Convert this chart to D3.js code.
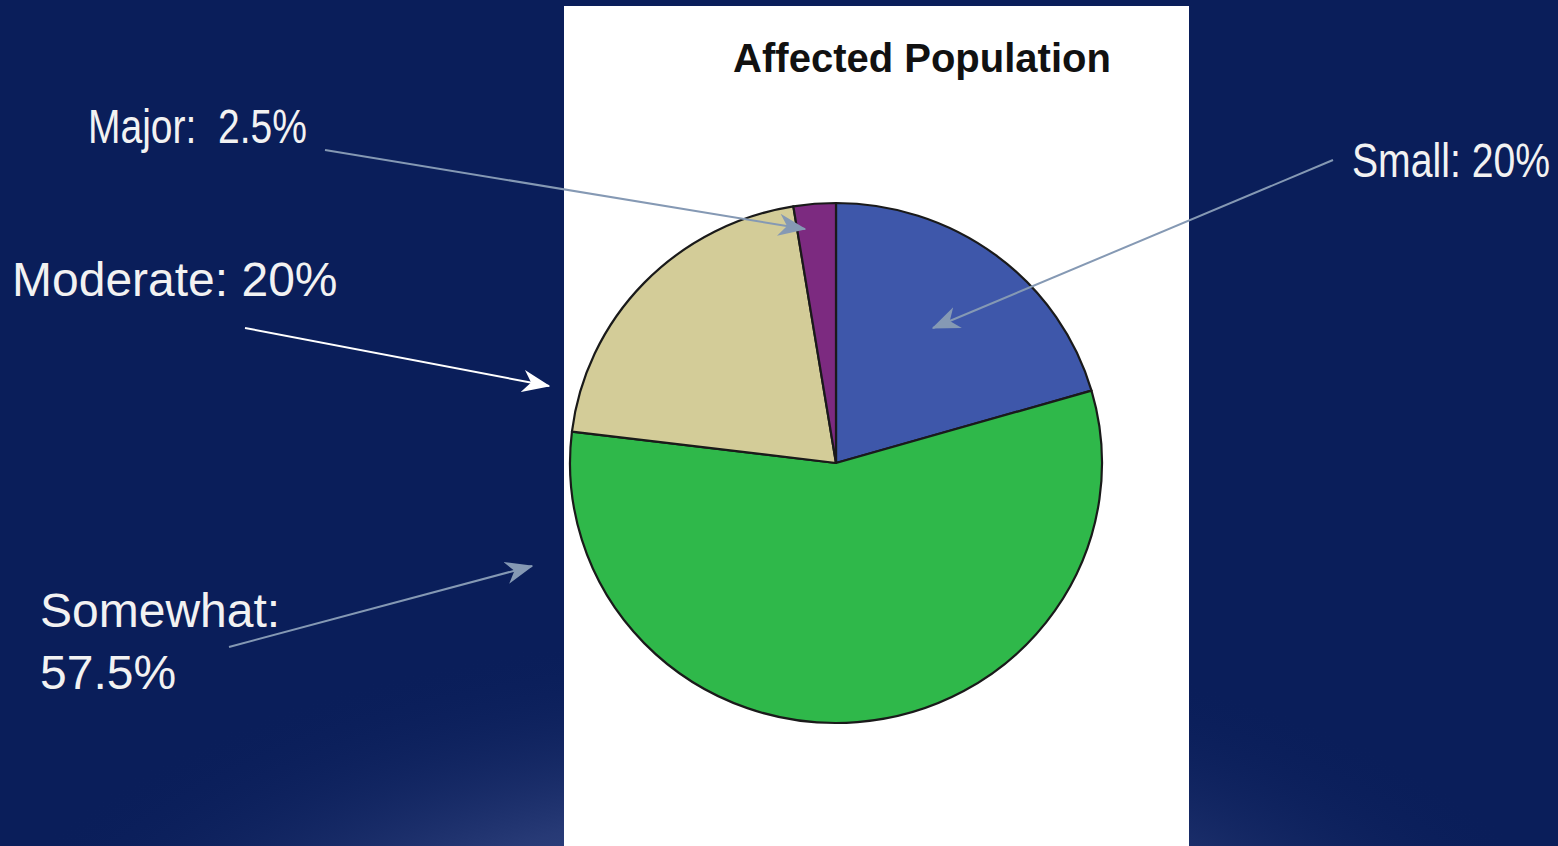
<!DOCTYPE html>
<html lang="en">
<head>
  <meta charset="UTF-8">
  <title>Affected Population</title>
  <script src="https://d3js.org/d3.v7.min.js"></script>
  <style>
    html, body { margin: 0; padding: 0; background: #0a1e5a; overflow: hidden; }
    svg { display: block; }
    text { white-space: pre; }
  </style>
</head>
<body>
<svg id="canvas" width="1558" height="846"></svg>
<script>
  let categories = ['Small', 'Somewhat', 'Moderate', 'Major'];
  let counts = [8, 22, 8, 1];
  let sliceColors = ['#3e57aa', '#2fb84a', '#d3cc98', '#7c2a80'];
  let labelLines = [['Small: 20%'], ['Somewhat:', '57.5%'], ['Moderate: 20%'], ['Major:  2.5%']];

  // where each callout sits (layout only); narrow labels get squeezed to their width
  let callouts = [
    { x: 1352, y: 177, narrow: 198, from: [1333, 160], to: [933, 328], color: '#8599b4' },
    { x: 40, y: 627, narrow: 0, from: [229, 647], to: [532, 566], color: '#8599b4' },
    { x: 12, y: 296, narrow: 0, from: [245, 328], to: [549, 386], color: '#ffffff' },
    { x: 88, y: 143, narrow: 219, from: [325, 150], to: [805, 229], color: '#8599b4' }
  ];

  let W = 1558, H = 846;
  let svg = d3.select('#canvas');
  let defs = svg.append('defs');

  // background with the soft glow at the bottom
  let glow = defs.append('radialGradient').attr('id', 'glow')
    .attr('gradientUnits', 'userSpaceOnUse')
    .attr('cx', 780).attr('cy', 1020).attr('r', 520)
    .attr('gradientTransform', 'translate(780,1020) scale(1.6,0.75) translate(-780,-1020)');
  glow.append('stop').attr('offset', '0%').attr('stop-color', '#6577ad').attr('stop-opacity', 0.9);
  glow.append('stop').attr('offset', '55%').attr('stop-color', '#3a4c88').attr('stop-opacity', 0.6);
  glow.append('stop').attr('offset', '100%').attr('stop-color', '#0a1e5a').attr('stop-opacity', 0);

  svg.append('rect').attr('width', W).attr('height', H).attr('fill', '#0a1e5a');
  svg.append('rect').attr('width', W).attr('height', H).attr('fill', 'url(#glow)');

  // white chart panel
  svg.append('rect').attr('x', 564).attr('y', 6).attr('width', 625).attr('height', H - 6).attr('fill', '#ffffff');

  svg.append('text')
    .attr('x', 922).attr('y', 72)
    .attr('text-anchor', 'middle')
    .attr('font-family', "'Liberation Sans', Arial, sans-serif")
    .attr('font-weight', 'bold')
    .attr('font-size', 40)
    .attr('fill', '#111')
    .text('Affected Population');

  // pie
  let cx = 836, cy = 463, rx = 266, ry = 260;
  let pie = d3.pie().sort(null).value(d => d);
  let arc = d3.arc().innerRadius(0).outerRadius(rx);

  let pieG = svg.append('g')
    .attr('transform', `translate(${cx},${cy}) scale(1,${ry / rx})`);

  pieG.selectAll('path')
    .data(pie(counts))
    .enter()
    .append('path')
    .attr('d', arc)
    .attr('fill', (d, i) => sliceColors[i])
    .attr('stroke', '#1a1a1a')
    .attr('stroke-width', 2.2)
    .attr('vector-effect', 'non-scaling-stroke')
    .attr('stroke-linejoin', 'round');

  // arrowheads
  ['#8599b4', '#ffffff'].forEach((c, i) => {
    defs.append('marker')
      .attr('id', 'arrow' + i)
      .attr('viewBox', '0 0 20 16')
      .attr('refX', 19).attr('refY', 8)
      .attr('markerWidth', 14).attr('markerHeight', 12)
      .attr('markerUnits', 'strokeWidth')
      .attr('orient', 'auto')
      .append('path')
      .attr('d', 'M0,0 L20,8 L0,16 L6,8 Z')
      .attr('fill', c);
  });

  let labels = svg.append('g');
  categories.forEach((cat, i) => {
    let c = callouts[i];
    labels.append('line')
      .attr('x1', c.from[0]).attr('y1', c.from[1])
      .attr('x2', c.to[0]).attr('y2', c.to[1])
      .attr('stroke', c.color)
      .attr('stroke-width', 2)
      .attr('marker-end', c.color === '#ffffff' ? 'url(#arrow1)' : 'url(#arrow0)');

    let t = labels.append('text')
      .attr('x', c.x).attr('y', c.y)
      .attr('font-family', "'Liberation Sans', Arial, sans-serif")
      .attr('font-size', 48)
      .attr('fill', '#f2f2f2');
    labelLines[i].forEach((line, j) => {
      let ts = t.append('tspan').attr('x', c.x).attr('dy', j === 0 ? 0 : 62).text(line);
      if (c.narrow) ts.attr('textLength', c.narrow).attr('lengthAdjust', 'spacingAndGlyphs');
    });
  });
</script>
</body>
</html>
